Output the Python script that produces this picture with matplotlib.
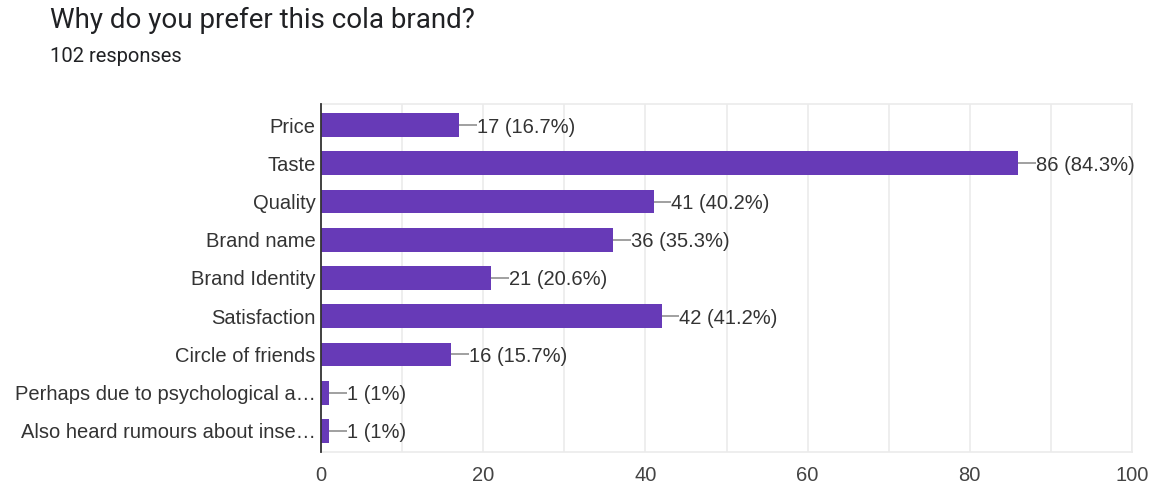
import matplotlib.pyplot as plt
from matplotlib.ticker import MultipleLocator

plt.rcParams['font.family'] = ['Liberation Sans', 'DejaVu Sans']

title = "Why do you prefer this cola brand?"
subtitle = "102 responses"
categories = [
    "Price",
    "Taste",
    "Quality",
    "Brand name",
    "Brand Identity",
    "Satisfaction",
    "Circle of friends",
    "Perhaps due to psychological a\u2026",
    "Also heard rumours about inse\u2026",
]
counts = [17, 86, 41, 36, 21, 42, 16, 1, 1]
percents = ["16.7%", "84.3%", "40.2%", "35.3%", "20.6%", "41.2%", "15.7%", "1%", "1%"]
xticks = [0, 20, 40, 60, 80, 100]

bar_color = "#673ab7"
text_color = "#333333"

fig = plt.figure(figsize=(11.53, 4.87), dpi=100)
ax = fig.add_axes([321 / 1153, 1 - 452 / 487, 811 / 1153, 348 / 487])

ypos = list(range(len(categories)))
ax.barh(ypos, counts, height=0.62, color=bar_color, zorder=3)

for y, c, p in zip(ypos, counts, percents):
    # short leader line from the bar end to its label
    ax.plot([c, c + 2.2], [y, y], color="#999999", lw=1.3, zorder=3,
            solid_capstyle="butt")
    ax.text(c + 2.2, y, f"{c} ({p})", va="center_baseline", ha="left",
            fontsize=14.5, color=text_color, zorder=4)

ax.set_xlim(0, 100)
ax.set_ylim(len(categories) - 0.45, -0.55)
ax.set_yticks(ypos)
ax.set_yticklabels(categories, fontsize=14.5, color=text_color)
ax.set_xticks(xticks)
ax.xaxis.set_minor_locator(MultipleLocator(10))
ax.tick_params(axis="x", which="both", length=0, labelsize=14.5,
               labelcolor="#444444", pad=10)
ax.tick_params(axis="y", length=0, pad=4)
ax.grid(axis="x", which="both", color="#ebebeb", lw=1.2, zorder=0)

for side in ["top", "right", "bottom"]:
    ax.spines[side].set_color("#ebebeb")
    ax.spines[side].set_linewidth(1.2)
ax.spines["left"].set_color(text_color)
ax.spines["left"].set_linewidth(1.3)
ax.spines["left"].set_zorder(5)

fig.text(50 / 1153, 1 - 20 / 487, title, fontsize=20, color="#202124",
         va="center", ha="left", family=["Roboto", "DejaVu Sans"])
fig.text(50 / 1153, 1 - 57 / 487, subtitle, fontsize=14.5, color="#202124",
         va="center", ha="left", family=["Roboto", "DejaVu Sans"])

fig.savefig("out.png", dpi=100)
